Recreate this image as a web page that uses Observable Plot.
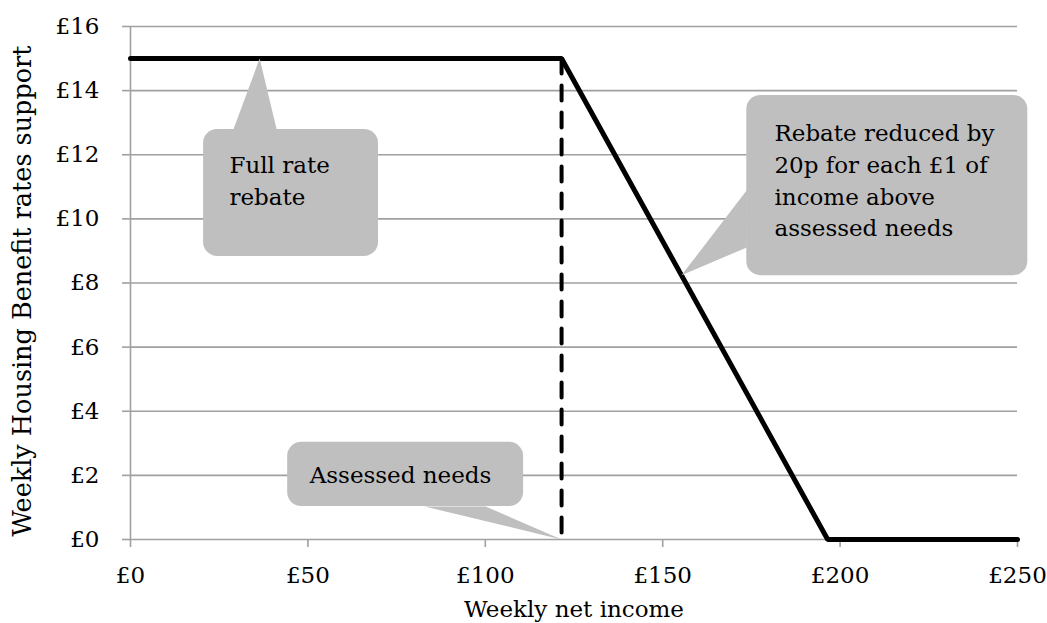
<!DOCTYPE html>
<html>
<head>
<meta charset="utf-8">
<script src="https://cdn.jsdelivr.net/npm/d3@7"></script>
<script src="https://cdn.jsdelivr.net/npm/@observablehq/plot@0.6"></script>
<style>
  html, body { margin: 0; padding: 0; background: #fff; }
  #chart { width: 1047px; height: 623px; }
</style>
</head>
<body>
<div id="chart"></div>
<script>
// ---- data ----
const xTicks = [0, 50, 100, 150, 200, 250];
const yTicks = [0, 2, 4, 6, 8, 10, 12, 14, 16];
const income = [0, 121.5, 196.5, 250];
const support = [15, 15, 0, 0];
const assessedNeeds = 121.5;
const fullRebate = 15;

const xTitle = "Weekly net income";
const yTitle = "Weekly Housing Benefit rates support";

const calloutIds = ["full", "taper", "needs"];
const calloutTexts = ["Full rate\nrebate", "Rebate reduced by\n20p for each £1 of\nincome above\nassessed needs", "Assessed needs"];

// ---- annotation geometry (data units) ----
const boxes = [
  {id: "full", x1: 20.6, x2: 69.9, y1: 8.83, y2: 12.79},
  {id: "taper", x1: 173.7, x2: 252.9, y1: 8.23, y2: 13.85},
  {id: "needs", x1: 44.3, x2: 110.8, y1: 1.03, y2: 3.03}
];
const pointers = [
  {id: "full", x: 29.0, y: 12.79}, {id: "full", x: 36.4, y: 15.0}, {id: "full", x: 41.2, y: 12.79},
  {id: "taper", x: 173.7, y: 10.89}, {id: "taper", x: 155.3, y: 8.24}, {id: "taper", x: 173.7, y: 9.11},
  {id: "needs", x: 82.9, y: 1.03}, {id: "needs", x: assessedNeeds, y: 0}, {id: "needs", x: 100.1, y: 1.03}
];
const labelPos = [
  {x: 27.9, y: 12.15},
  {x: 181.5, y: 13.15},
  {x: 50.5, y: 2.48}
];

const lineData = income.map((x, i) => ({x, y: support[i]}));
const dashData = [{x: assessedNeeds, y: fullRebate}, {x: assessedNeeds, y: 0}];
const labels = calloutTexts.map((t, i) => ({id: calloutIds[i], text: t, ...labelPos[i]}));

const grey = "#a0a0a0";
const fill = "#bfbfbf";
const fmt = d => "£" + d;

const chart = Plot.plot({
  width: 1047,
  height: 623,
  marginLeft: 130,
  marginRight: 30,
  marginTop: 26,
  marginBottom: 84,
  style: {fontFamily: "DejaVu Serif", fontSize: "23px", background: "#fff", color: "#000"},
  x: {domain: [0, 250], label: null},
  y: {domain: [0, 16], label: null},
  marks: [
    Plot.ruleY(yTicks, {y: d => d, stroke: grey, strokeWidth: 1.6}),
    Plot.ruleX([0], {stroke: grey, strokeWidth: 1.6}),
    Plot.axisY(yTicks, {tickSize: 8, tickPadding: 23, stroke: grey, strokeWidth: 1.6, fill: "#000", tickFormat: fmt, fontSize: 23, label: null}),
    Plot.axisX(xTicks, {tickSize: 8, tickPadding: 19, stroke: grey, strokeWidth: 1.6, fill: "#000", tickFormat: fmt, fontSize: 23, label: null}),
    Plot.line(lineData, {x: "x", y: "y", stroke: "#000", strokeWidth: 5, strokeLinejoin: "miter"}),
    Plot.line(dashData, {x: "x", y: "y", stroke: "#000", strokeWidth: 4, strokeDasharray: "15,12"}),
    Plot.line(pointers, {x: "x", y: "y", z: "id", fill: fill, stroke: "none", curve: "linear-closed"}),
    Plot.rect(boxes, {x1: "x1", x2: "x2", y1: "y1", y2: "y2", fill: fill, rx: 14, ry: 14}),
    Plot.text(labels, {x: "x", y: "y", text: "text", textAnchor: "start", lineAnchor: "top", lineHeight: 1.39, fill: "#000", fontSize: 23}),
    Plot.text([xTitle], {frameAnchor: "bottom", text: d => d, textAnchor: "middle", lineAnchor: "middle", dy: 70, fill: "#000", fontSize: 23}),
    Plot.text([yTitle], {frameAnchor: "left", text: d => d, textAnchor: "middle", lineAnchor: "middle", rotate: -90, dx: -108, dy: 8, fill: "#000", fontSize: 25.5})
  ]
});
document.getElementById("chart").appendChild(chart);
</script>
</body>
</html>
